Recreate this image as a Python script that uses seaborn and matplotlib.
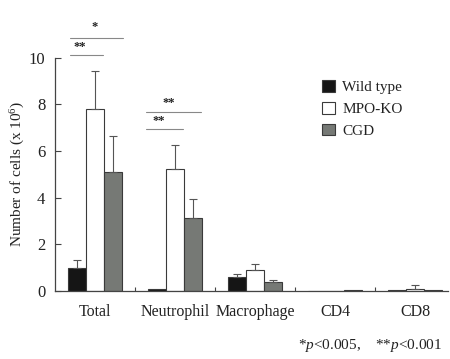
import matplotlib
matplotlib.use("Agg")
import matplotlib.pyplot as plt
import seaborn as sns
import pandas as pd
import numpy as np

categories = ["Total", "Neutrophil", "Macrophage", "CD4", "CD8"]
groups = ["Wild type", "MPO-KO", "CGD"]
wt_vals = [1.0, 0.08, 0.6, 0.01, 0.03]
mpo_vals = [7.8, 5.25, 0.92, 0.02, 0.07]
cgd_vals = [5.1, 3.15, 0.37, 0.04, 0.06]
wt_err = [0.33, 0.0, 0.15, 0.0, 0.0]
mpo_err = [1.65, 1.0, 0.25, 0.0, 0.2]
cgd_err = [1.55, 0.8, 0.09, 0.0, 0.0]
y_ticks = [0, 2, 4, 6, 8, 10]

sns.set_theme(style="ticks")
plt.rcParams["font.family"] = ["Liberation Serif", "DejaVu Serif"]
plt.rcParams["mathtext.fontset"] = "custom"
plt.rcParams["mathtext.rm"] = "Liberation Serif"
plt.rcParams["mathtext.it"] = "Liberation Serif:italic"

rows = []
for g, vals in zip(groups, [wt_vals, mpo_vals, cgd_vals]):
    for c, v in zip(categories, vals):
        rows.append({"cat": c, "group": g, "value": v})
df = pd.DataFrame(rows)

fig = plt.figure(figsize=(4.5, 3.59), dpi=100)
ax = fig.add_axes([55 / 450, 68 / 359, 393 / 450, 233.3 / 359])

palette = {"Wild type": "#151515", "MPO-KO": "#ffffff", "CGD": "#767975"}
sns.barplot(data=df, x="cat", y="value", hue="group", order=categories,
            hue_order=groups, palette=palette, errorbar=None, width=0.675,
            edgecolor="#3a3a3a", linewidth=0.8, saturation=1, ax=ax)

# error bars (upward only)
errs = [wt_err, mpo_err, cgd_err]
bar_containers = list(ax.containers)
for gi, cont in enumerate(bar_containers):
    for ci, patch in enumerate(cont.patches):
        e = errs[gi][ci]
        if e <= 0:
            continue
        xc = patch.get_x() + patch.get_width() / 2
        h = patch.get_height()
        ax.errorbar(xc, h, yerr=[[0], [e]], fmt="none", ecolor="#555555",
                    elinewidth=0.8, capsize=3, capthick=0.8, zorder=1)

ax.set_xlim(-0.5, 4.4125)
ax.set_ylim(0, 10)
ax.set_yticks(y_ticks)
ax.set_yticklabels([str(t) for t in y_ticks], fontsize=12)
ax.set_xticks([0.5, 1.5, 2.5, 3.5], minor=True)
ax.set_xticks(range(len(categories)))
ax.set_xticklabels(categories, fontsize=11.5)
ax.tick_params(axis="x", which="major", length=0, pad=9, colors="#222222")
ax.tick_params(axis="x", which="minor", direction="in", length=3, width=0.8, color="#444444")
ax.tick_params(axis="y", direction="in", length=4, width=0.8, color="#444444",
               labelcolor="#222222", pad=7)
for s in ["top", "right"]:
    ax.spines[s].set_visible(False)
for s in ["left", "bottom"]:
    ax.spines[s].set_linewidth(0.9)
    ax.spines[s].set_color("#444444")
ax.set_xlabel("")
ax.set_ylabel("Number of cells (x 10$^6$)", fontsize=11, labelpad=1, color="#222222")

# significance marks
def sig(x0, x1, y, text, tx, ty):
    ax.plot([x0, x1], [y, y], color="#888888", lw=0.8, clip_on=False)
    ax.text(tx, ty, text, ha="center", va="center", fontsize=9,
            fontweight="bold", clip_on=False, color="#222222")

sig(-0.31, 0.35, 10.83, "*", 0.0, 11.3)
sig(-0.31, 0.1, 10.11, "**", -0.19, 10.47)
sig(0.64, 1.325, 7.69, "**", 0.92, 8.05)
sig(0.64, 1.1, 6.93, "**", 0.80, 7.3)

leg = ax.legend(loc="upper left", bbox_to_anchor=(0.665, 0.93), frameon=False,
                fontsize=11, handlelength=0.8, handleheight=0.8,
                handletextpad=0.5, labelspacing=0.5, borderaxespad=0)
for t in leg.get_texts():
    t.set_color("#222222")

fig.text(298 / 450, 1 - 346 / 359,
         "*$\\it{p}$<0.005,    **$\\it{p}$<0.001", fontsize=11, va="center",
         ha="left", color="#222222")

fig.savefig("out.png", dpi=100)
